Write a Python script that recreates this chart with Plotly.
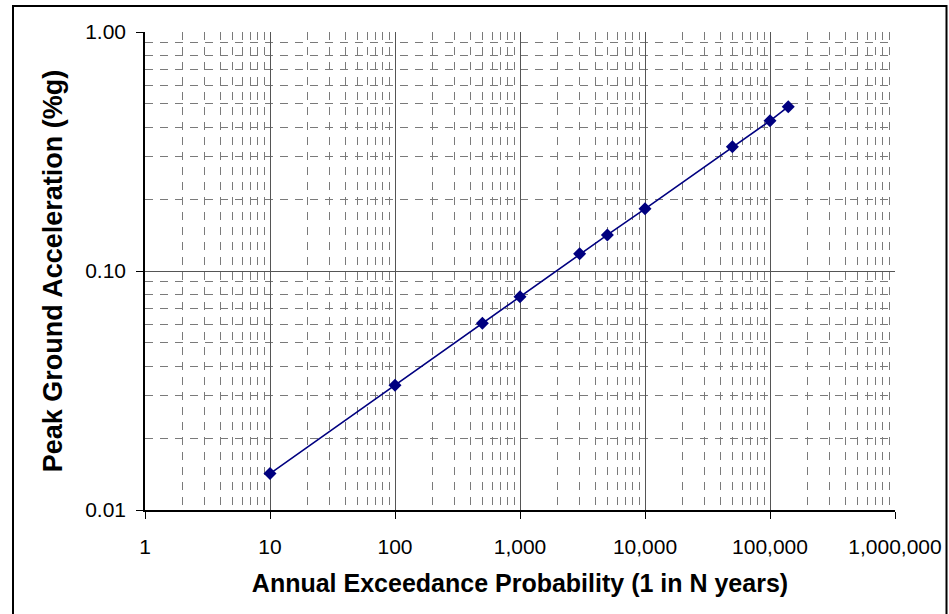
import plotly.graph_objects as go

return_period = [10, 100, 500, 1000, 3000, 5000, 10000, 50000, 100000, 140000]
pga = [0.0142, 0.0333, 0.0604, 0.0780, 0.118, 0.1416, 0.182, 0.331, 0.425, 0.487]

x_tickvals = [1, 10, 100, 1000, 10000, 100000, 1000000]
x_ticktext = ["1", "10", "100", "1,000", "10,000", "100,000", "1,000,000"]
y_tickvals = [0.01, 0.1, 1.0]
y_ticktext = ["0.01", "0.10", "1.00"]

NAVY = "#000080"

fig = go.Figure()
fig.add_trace(go.Scatter(
    x=return_period, y=pga, mode="lines+markers",
    line=dict(color=NAVY, width=1.6),
    marker=dict(symbol="diamond", size=10, color=NAVY),
    showlegend=False,
))

font = dict(family="Liberation Sans, Arial, sans-serif", color="black")
MAJOR = "#555555"
MINOR = "#7a7a7a"

fig.update_xaxes(
    type="log", range=[0, 6], automargin=False,
    tickvals=x_tickvals, ticktext=x_ticktext,
    tickfont=dict(size=21, **font),
    ticks="outside", ticklen=7, tickcolor="black", tickwidth=1,
    ticklabelstandoff=10,
    showline=True, linecolor="black", linewidth=1.5,
    showgrid=True, gridcolor=MAJOR, gridwidth=1,
    minor=dict(dtick="D1", showgrid=True, gridcolor=MINOR, griddash="8px,7px", gridwidth=1, ticks=""),
    zeroline=False,
    title=dict(text="<b>Annual Exceedance Probability (1 in N years)</b>", font=dict(size=25, **font), standoff=18),
)
fig.update_yaxes(
    type="log", range=[-2, 0], automargin=False,
    tickvals=y_tickvals, ticktext=y_ticktext,
    tickfont=dict(size=21, **font),
    ticks="outside", ticklen=7, tickcolor="black", tickwidth=1,
    ticklabelstandoff=6,
    showline=True, linecolor="black", linewidth=1.5,
    showgrid=True, gridcolor=MAJOR, gridwidth=1,
    minor=dict(dtick="D1", showgrid=True, gridcolor=MINOR, griddash="8px,7px", gridwidth=1, ticks=""),
    zeroline=False,
    title=dict(text="<b>Peak Ground Acceleration (%g)</b>", font=dict(size=27, **font), standoff=15),
)

W, H = 949, 614
L, R, T, B = 145, 54, 32, 104
pw, ph = W - L - R, H - T - B
# outer chart border (paper coords relative to plot area)
x0 = (13 - L) / pw
x1 = (946.5 - L) / pw
y1 = 1 + (T - 6) / ph
y0 = -(B + 5) / ph
fig.add_shape(type="rect", xref="paper", yref="paper", x0=x0, x1=x1, y0=y0, y1=y1,
              line=dict(color="black", width=2), layer="below")

fig.update_layout(
    width=W, height=H,
    margin=dict(l=L, r=R, t=T, b=B),
    paper_bgcolor="white", plot_bgcolor="white",
    font=font,
)

fig.write_html("out.html")
